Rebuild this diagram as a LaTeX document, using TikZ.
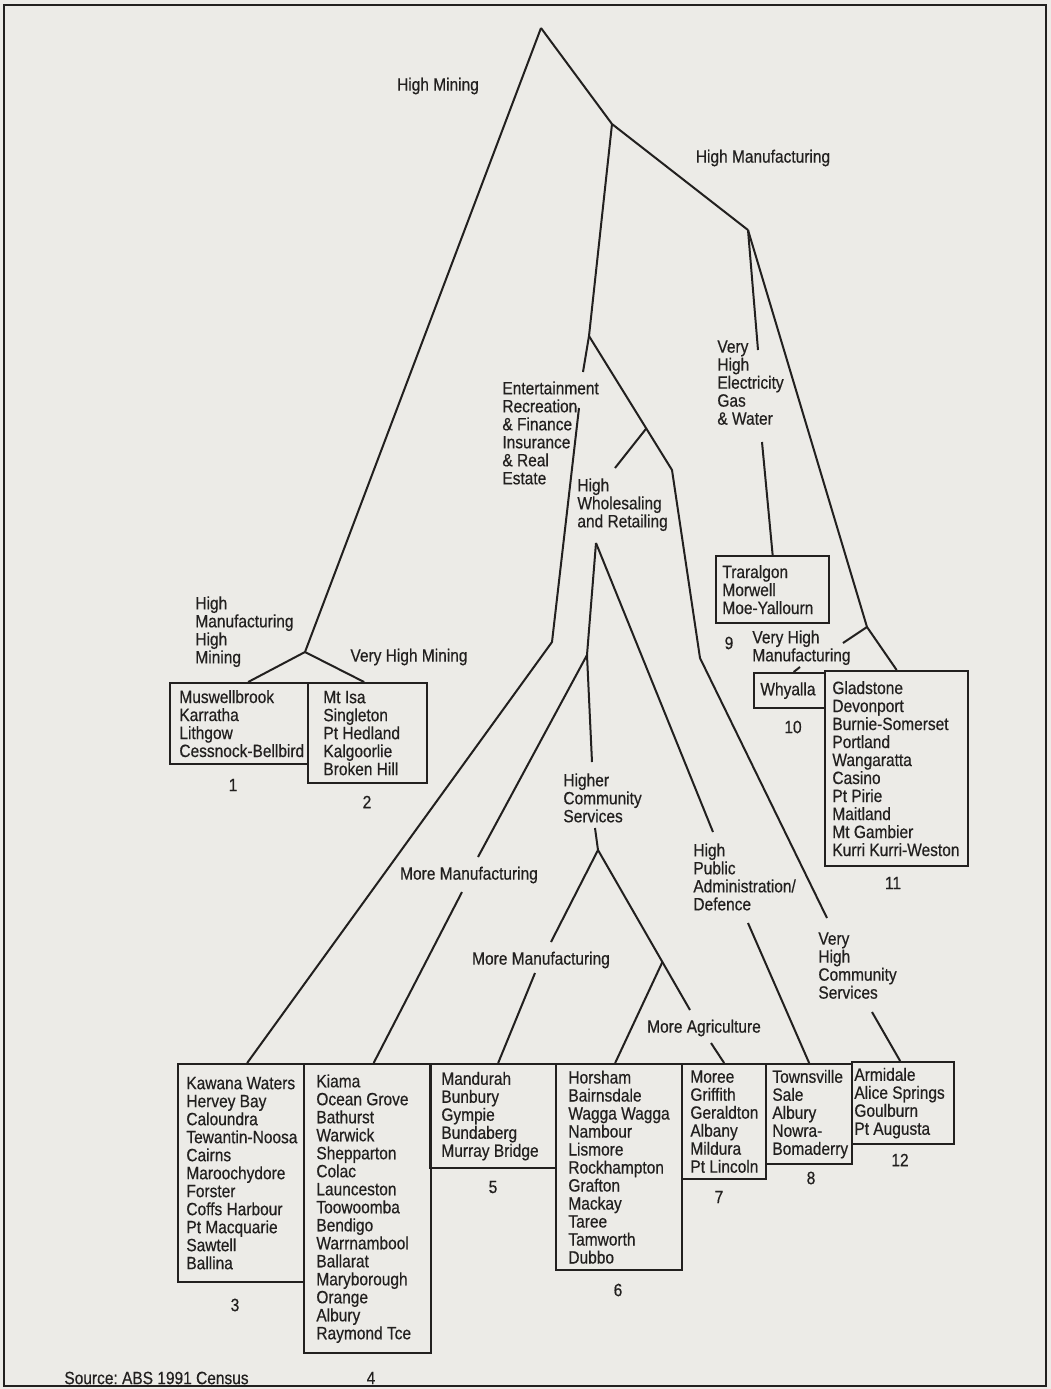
\documentclass[tikz,border=0pt]{standalone}
\usepackage{fontspec}
\setmainfont{Liberation Sans}[FakeStretch=0.87, FakeBold=0.5]
\usepackage{tikz}
\usetikzlibrary{positioning,calc}
\definecolor{paper}{RGB}{236,235,231}
\definecolor{ink}{RGB}{34,32,31}
\newcommand{\treefont}{\fontsize{8.9}{9}\selectfont}
\frenchspacing

\begin{document}
\begin{tikzpicture}[
  x=0.5pt, y=-0.5pt,
  branch/.style={draw=ink, line width=1pt},
  cluster/.style={
    rectangle, draw=ink, line width=1.15pt,
    anchor=north west, inner sep=0pt
  },
  towns/.style={anchor=west, align=left, inner sep=0pt,
    font=\treefont, text=ink},
  split/.style={anchor=north west, align=left, inner sep=0pt,
    font=\treefont, text=ink},
  tag/.style={inner sep=0pt, font=\treefont, text=ink}
]

% Page and frame
\fill[paper] (0,0) rectangle (1051,1389);
\draw[ink, line width=1.3pt] (4,5) rectangle (1046,1386);

% Cluster boxes
\node[cluster, minimum width=69pt, minimum height=40.5pt] (c1) at (169,682) {};
\node[towns] at ([xshift=5pt]c1.west)
  {Muswellbrook\\Karratha\\Lithgow\\Cessnock-Bellbird};
\node[cluster, minimum width=59.5pt, minimum height=50pt] (c2) at (307,682) {};
\node[towns] at ([xshift=8pt]c2.west)
  {Mt Isa\\Singleton\\Pt Hedland\\Kalgoorlie\\Broken Hill};

\node[cluster, minimum width=56.5pt, minimum height=33.5pt] (c9) at (715,555) {};
\node[towns] at ([xshift=3.5pt]c9.west)
  {Traralgon\\Morwell\\Moe-Yallourn};
\node[cluster, minimum width=35.5pt, minimum height=17.5pt] (c10) at (753,672) {};
\node[towns] at ([xshift=3.5pt]c10.west) {Whyalla};
\node[cluster, minimum width=71.5pt, minimum height=97.5pt] (c11) at (824,670) {};
\node[towns] at ([xshift=4pt]c11.west)
  {Gladstone\\Devonport\\Burnie-Somerset\\Portland\\Wangaratta\\Casino\\
   Pt Pirie\\Maitland\\Mt Gambier\\Kurri Kurri-Weston};

\node[cluster, minimum width=63pt, minimum height=109pt] (c3) at (177,1063) {};
\node[towns] at ([xshift=4.5pt]c3.west)
  {Kawana Waters\\Hervey Bay\\Caloundra\\Tewantin-Noosa\\Cairns\\
   Maroochydore\\Forster\\Coffs Harbour\\Pt Macquarie\\Sawtell\\Ballina};
\node[cluster, minimum width=63.5pt, minimum height=144.5pt] (c4) at (303,1063) {};
\node[towns] at ([xshift=6.5pt]c4.west)
  {Kiama\\Ocean Grove\\Bathurst\\Warwick\\Shepparton\\Colac\\Launceston\\
   Toowoomba\\Bendigo\\Warrnambool\\Ballarat\\Maryborough\\Orange\\
   Albury\\Raymond Tce};
\node[cluster, minimum width=63pt, minimum height=52pt] (c5) at (429,1063) {};
\node[towns] at ([xshift=6pt]c5.west)
  {Mandurah\\Bunbury\\Gympie\\Bundaberg\\Murray Bridge};
\node[cluster, minimum width=63pt, minimum height=103pt] (c6) at (555,1063) {};
\node[towns] at ([xshift=6.5pt]c6.west)
  {Horsham\\Bairnsdale\\Wagga Wagga\\Nambour\\Lismore\\Rockhampton\\
   Grafton\\Mackay\\Taree\\Tamworth\\Dubbo};
\node[cluster, minimum width=42pt, minimum height=57.5pt] (c7) at (681,1063) {};
\node[towns] at ([xshift=4.5pt]c7.west)
  {Moree\\Griffith\\Geraldton\\Albany\\Mildura\\Pt Lincoln};
\node[cluster, minimum width=43pt, minimum height=50pt] (c8) at (765,1063) {};
\node[towns] at ([xshift=3.5pt]c8.west)
  {Townsville\\Sale\\Albury\\Nowra-\\Bomaderry};
\node[cluster, minimum width=51pt, minimum height=41pt] (c12) at (851,1061) {};
\node[towns] at ([xshift=1.5pt]c12.west)
  {Armidale\\Alice Springs\\Goulburn\\Pt Augusta};

% Cluster numbers
\node[tag] (n1) at (233,785) {1};
\node[tag] (n2) at (367,802) {2};
\node[tag] (n3) at (235,1305) {3};
\node[tag] (n4) at (371,1378) {4};
\node[tag] (n5) at (493,1187) {5};
\node[tag] (n6) at (618,1290) {6};
\node[tag] (n7) at (719,1197) {7};
\node[tag] (n8) at (811,1178) {8};
\node[tag] (n9) at (729,643) {9};
\node[tag] (n10) at (793,727) {10};
\node[tag] (n11) at (893,883) {11};
\node[tag] (n12) at (900,1160) {12};

% Split labels
\node[tag] (lMine) at (438,86) {High Mining};
\node[tag] (lMfg) at (763,158) {High Manufacturing};
\node[tag] (lVHMine) at (409,657) {Very High Mining};
\node[tag] (lMoreA) at (469,875) {More Manufacturing};
\node[tag] (lMoreB) at (541,960) {More Manufacturing};
\node[tag] (lAgri) at (704,1028) {More Agriculture};
\node[split] (lMfgMine) at (195,596) {High\\Manufacturing\\High\\Mining};
\node[split] (lEnt) at (502,381)
  {Entertainment\\Recreation\\\& Finance\\Insurance\\\& Real\\Estate};
\node[split] (lWhole) at (577,478) {High\\Wholesaling\\and Retailing};
\node[split] (lElec) at (717,340) {Very\\High\\Electricity\\Gas\\\& Water};
\node[split] (lVHMfg) at (752,630) {Very High\\Manufacturing};
\node[split] (lComm) at (563,773) {Higher\\Community\\Services};
\node[split] (lPub) at (693,843) {High\\Public\\Administration/\\Defence};
\node[split] (lVHComm) at (818,932) {Very\\High\\Community\\Services};

\node[tag, anchor=west] (src) at (64,1378) {Source: ABS 1991 Census};

% Junctions and bends
\coordinate (root) at (541,28);
\coordinate (jMine) at (305,652);
\coordinate (jServ) at (612,124);
\coordinate (jMfg) at (748,230);
\coordinate (jEnt) at (589,336);
\coordinate (kWhole) at (672,470);
\coordinate (jWhole) at ($(jEnt)!0.69!(kWhole)$);
\coordinate (kVHComm) at (700,658);
\coordinate (kEnt) at (552,642);
\coordinate (jComm) at (587,655);
\coordinate (jMore) at (598,850);
\coordinate (jVHMfg) at (867,627);

% Line ends beside the labels
\coordinate (eEntA) at (583,372);
\coordinate (eEntB) at (579,408);
\coordinate (eWhole) at (615,468);
\coordinate (sWhole) at (596,543);
\coordinate (eComm) at (592,762);
\coordinate (sComm) at (595,828);
\coordinate (eMoreA) at (478,857);
\coordinate (sMoreA) at (462,892);
\coordinate (eMoreB) at (551,942);
\coordinate (sMoreB) at (535,973);
\coordinate (eAgri) at (690,1010);
\coordinate (sAgri) at (711,1043);
\coordinate (jAgri) at ($(jMore)!0.7!(eAgri)$);
\coordinate (ePub) at (713,832);
\coordinate (sPub) at (748,923);
\coordinate (eVHComm) at (827,918);
\coordinate (sVHComm) at (872,1012);
\coordinate (eElec) at (758,350);
\coordinate (sElec) at (762,442);
\coordinate (eVHMfg) at (843,643);
\coordinate (sVHMfg) at (800,667);

% Tree branches
\draw[branch] (root) -- (jMine);
\draw[branch] (jMine) -- ([xshift=4.5pt]c1.north);
\draw[branch] (jMine) -- ([xshift=-1.75pt]c2.north);
\draw[branch] (root) -- (jServ) -- (jMfg);
\draw[branch] (jServ) -- (jEnt) -- (eEntA);
\draw[branch] (eEntB) -- (kEnt) -- ([xshift=3pt]c3.north);
\draw[branch] (jEnt) -- (kWhole) -- (kVHComm) -- (eVHComm);
\draw[branch] (jWhole) -- (eWhole);
\draw[branch] (sWhole) -- (jComm) -- (eComm);
\draw[branch] (sWhole) -- (ePub);
\draw[branch] (jComm) -- (eMoreA);
\draw[branch] (sMoreA) -- ([xshift=3pt]c4.north);
\draw[branch] (sComm) -- (jMore);
\draw[branch] (jMore) -- (eMoreB);
\draw[branch] (jMore) -- (eAgri);
\draw[branch] (jAgri) -- ([xshift=-2pt]c6.north);
\draw[branch] (sMoreB) -- ([xshift=2.5pt]c5.north);
\draw[branch] (sAgri) -- (c7.north);
\draw[branch] (sPub) -- (c8.north);
\draw[branch] (sVHComm) -- ([xshift=-1.5pt]c12.north);
\draw[branch] (jMfg) -- (eElec);
\draw[branch] (sElec) -- (c9.north);
\draw[branch] (jMfg) -- (jVHMfg) -- (c11.north);
\draw[branch] (jVHMfg) -- (eVHMfg);
\draw[branch] (sVHMfg) -- ([xshift=2pt]c10.north);

\end{tikzpicture}
\end{document}
